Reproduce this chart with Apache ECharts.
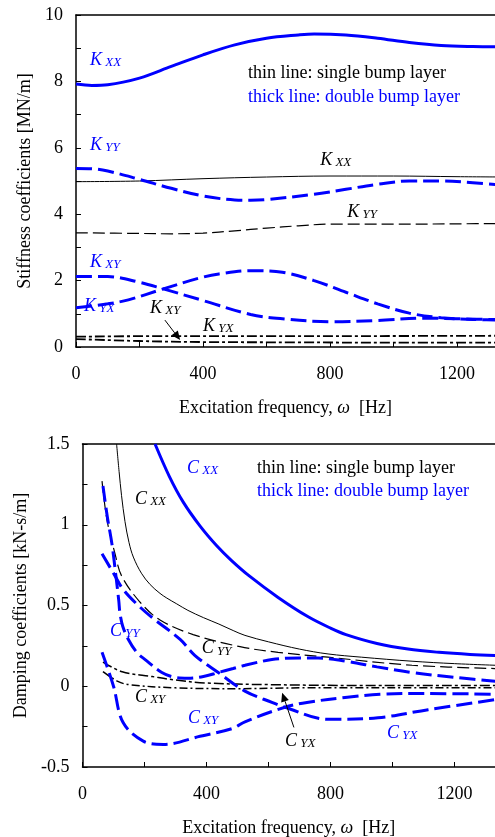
<!DOCTYPE html>
<html><head><meta charset="utf-8">
<script src="https://cdn.jsdelivr.net/npm/echarts@6/dist/echarts.min.js"></script>
<style>html,body{margin:0;padding:0;background:#fff;overflow:hidden}#c{width:495px;height:837px}</style>
</head><body><div id="c"></div>
<script>
// ---------- Stiffness (top) ----------
const kxxDblX = [0,50,100,200,300,400,500,600,700,750,850,950,1050,1150,1250,1360];
const kxxDblY = [7.92,7.88,7.9,8.1,8.45,8.8,9.1,9.3,9.4,9.43,9.4,9.3,9.17,9.08,9.05,9.04];
const kyyDblX = [0,50,100,200,300,400,500,550,600,750,850,950,1050,1150,1250,1360];
const kyyDblY = [5.38,5.37,5.3,5.05,4.78,4.55,4.43,4.42,4.44,4.6,4.75,4.9,5.0,5.0,4.95,4.86];
const kxyDblX = [0,100,200,275,400,550,650,800,950,1100,1200,1360];
const kxyDblY = [2.12,2.12,1.95,1.75,1.4,0.98,0.85,0.76,0.8,0.87,0.85,0.82];
const kyxDblX = [0,100,165,275,390,450,550,650,750,850,950,1050,1150,1250,1360];
const kyxDblY = [1.18,1.3,1.42,1.75,2.08,2.2,2.3,2.25,2.0,1.65,1.3,1.02,0.88,0.83,0.81];
const kxxSglX = [0,200,400,600,800,1000,1200,1360];
const kxxSglY = [4.98,5.0,5.07,5.12,5.15,5.15,5.13,5.12];
const kyySglX = [0,200,300,400,500,600,700,800,1000,1200,1360];
const kyySglY = [3.44,3.42,3.41,3.43,3.5,3.58,3.65,3.7,3.7,3.71,3.72];
const kxySglX = [0,300,600,900,1360];
const kxySglY = [0.31,0.33,0.33,0.33,0.34];
const kyxSglX = [0,200,400,700,1000,1360];
const kyxSglY = [0.24,0.18,0.15,0.14,0.13,0.13];

// ---------- Damping (bottom) ----------
const cxxDblX = [234,280,325,380,433,480,540,631,728,800,850,950,1050,1150,1250,1360];
const cxxDblY = [1.5,1.3,1.14,0.99,0.87,0.78,0.68,0.55,0.43,0.36,0.32,0.265,0.23,0.21,0.197,0.188];
const cyyDblX = [66,80,95,108,117,121,130,148,175,202,256,298,340,390,438,486,524,611,700,760,850,950,1063,1200,1360];
const cyyDblY = [1.24,1.05,0.88,0.68,0.53,0.45,0.37,0.29,0.21,0.165,0.085,0.055,0.05,0.06,0.085,0.11,0.13,0.165,0.175,0.175,0.155,0.12,0.085,0.055,0.025];
const cxyDblX = [63,100,131,196,261,379,486,524,653,724,847,960,1100,1360];
const cxyDblY = [0.21,0.0,-0.225,-0.34,-0.36,-0.31,-0.26,-0.22,-0.13,-0.1,-0.07,-0.05,-0.045,-0.05];
const cyxDblX = [63,100,131,180,228,315,363,438,524,611,653,792,953,1115,1360];
const cyxDblY = [0.82,0.7,0.6,0.5,0.42,0.29,0.19,0.085,-0.03,-0.1,-0.13,-0.205,-0.195,-0.145,-0.075];
const cxxSglX = [110,118,126,137,150,164,190,218,250,272,304,340,390,440,486,524,600,700,792,900,1063,1200,1360];
const cxxSglY = [1.5,1.33,1.18,1.02,0.89,0.8,0.7,0.63,0.575,0.546,0.51,0.47,0.425,0.385,0.345,0.315,0.275,0.23,0.2,0.18,0.155,0.14,0.128];
const cyySglX = [63,79,105,127,186,250,357,508,631,792,1063,1360];
const cyySglY = [1.27,1.03,0.82,0.68,0.52,0.41,0.32,0.245,0.21,0.18,0.13,0.108];
const cxySglX = [66,128,225,293,400,600,900,1360];
const cxySglY = [0.15,0.09,0.06,0.04,0.02,0.01,0.005,0.005];
const cyxSglX = [66,114,150,300,500,700,1000,1360];
const cyxSglY = [0.09,0.03,0.01,-0.01,-0.015,-0.01,-0.01,-0.01];

// axis ranges / ticks (the plot runs past the right edge of the picture)
const topX = {min:0, max:1360, step:200, labelStep:400};
const topY = {min:0, max:10, step:1, labelStep:2};
const botX = {min:0, max:1360, step:200, labelStep:400};
const botY = {min:-0.5, max:1.5, step:0.25, labelStep:0.5};

const FONT = 'Liberation Serif';
const BLUE = '#0000ff';
const zip = (xs, ys) => xs.map((x, i) => [x, ys[i]]);

function line(xs, ys, g, color, width, dash) {
  return {
    type: 'line', xAxisIndex: g, yAxisIndex: g, data: zip(xs, ys),
    showSymbol: false, symbol: 'none', smooth: 0.35, animation: false,
    lineStyle: {color: color, width: width, type: dash || 'solid'}, z: width > 2 ? 3 : 2
  };
}

function isMult(v, s) { const r = v / s; return Math.abs(r - Math.round(r)) < 1e-6; }

function xAxis(g, cfg, shift) {
  return {
    gridIndex: g, type: 'value', min: cfg.min, max: cfg.max, interval: cfg.step,
    splitLine: {show: false},
    axisLine: {onZero: false, lineStyle: {color: '#000', width: 1.5}},
    axisTick: {inside: true, length: 5, lineStyle: {color: '#000', width: 1}},
    axisLabel: {color: '#000', fontSize: 18, fontFamily: FONT, margin: 18,
      formatter: v => isMult(v, cfg.labelStep) ? String(v) : ''},
    name: 'Excitation frequency, {i|ω}  [Hz]', nameLocation: 'middle', nameGap: 52,
    nameTextStyle: {color: '#000', fontSize: 18, fontFamily: FONT, padding: [0, shift, 0, 0],
      rich: {i: {fontStyle: 'italic', fontSize: 18, fontFamily: FONT, color: '#000'}}}
  };
}
function topBorder(g) {
  return {gridIndex: g, type: 'value', position: 'top', min: 0, max: 1,
    axisLine: {onZero: false, lineStyle: {color: '#000', width: 1.5}}, axisTick: {show: false},
    axisLabel: {show: false}, splitLine: {show: false}};
}
function yAxis(g, cfg, name, gap) {
  return {
    gridIndex: g, type: 'value', min: cfg.min, max: cfg.max, interval: cfg.step,
    splitLine: {show: false},
    axisLine: {show: true, onZero: false, lineStyle: {color: '#000', width: 1.5}},
    axisTick: {show: true, inside: true, length: 5, lineStyle: {color: '#000', width: 1}},
    axisLabel: {color: '#000', fontSize: 18, fontFamily: FONT, margin: 13,
      formatter: v => isMult(v, cfg.labelStep) ? String(+v.toFixed(2)) : ''},
    name: name, nameLocation: 'middle', nameGap: gap,
    nameTextStyle: {color: '#000', fontSize: 18, fontFamily: FONT}
  };
}

const chart = echarts.init(document.getElementById('c'), null, {renderer: 'canvas'});
chart.setOption({
  animation: false,
  backgroundColor: '#fff',
  textStyle: {fontFamily: FONT},
  grid: [
    {left: 76, top: 15, width: 431.8, height: 332, outerBoundsMode: 'none', containLabel: false},
    {left: 82.5, top: 444, width: 421.6, height: 323, outerBoundsMode: 'none', containLabel: false}
  ],
  xAxis: [xAxis(0, topX, 13), xAxis(1, botX, 9), topBorder(0), topBorder(1)],
  yAxis: [yAxis(0, topY, 'Stiffness coefficients [MN/m]', 40), yAxis(1, botY, 'Damping coefficients [kN-s/m]', 50)],
  series: [
    line(kxxSglX, kxxSglY, 0, '#000', 1),
    line(kyySglX, kyySglY, 0, '#000', 1.2, [12, 5]),
    line(kxySglX, kxySglY, 0, '#000', 1.8, [10, 3, 3, 3]),
    line(kyxSglX, kyxSglY, 0, '#000', 1.8, [10, 3, 3, 3]),
    line(kxxDblX, kxxDblY, 0, BLUE, 3),
    line(kyyDblX, kyyDblY, 0, BLUE, 3, [16, 6]),
    line(kxyDblX, kxyDblY, 0, BLUE, 3, [16, 6]),
    line(kyxDblX, kyxDblY, 0, BLUE, 3, [16, 6]),
    line(cxxSglX, cxxSglY, 1, '#000', 1),
    line(cyySglX, cyySglY, 1, '#000', 1.2, [12, 5]),
    line(cxySglX, cxySglY, 1, '#000', 1.5, [10, 3, 3, 3]),
    line(cyxSglX, cyxSglY, 1, '#000', 1.5, [8, 3, 2, 3]),
    line(cxxDblX, cxxDblY, 1, BLUE, 3),
    line(cyyDblX, cyyDblY, 1, BLUE, 3, [16, 6]),
    line(cxyDblX, cxyDblY, 1, BLUE, 3, [16, 6]),
    line(cyxDblX, cyxDblY, 1, BLUE, 3, [16, 6])
  ]
});

// ---------- annotations (data coordinates) ----------
const curveLabels = [
  [0, 'K', 'XX', 44, 8.64, BLUE], [0, 'K', 'YY', 44, 6.08, BLUE],
  [0, 'K', 'XX', 769, 5.63, '#000'], [0, 'K', 'YY', 854, 4.07, '#000'],
  [0, 'K', 'XY', 44, 2.56, BLUE], [0, 'K', 'YX', 25, 1.23, BLUE],
  [0, 'K', 'XY', 233, 1.17, '#000'], [0, 'K', 'YX', 400, 0.63, '#000'],
  [1, 'C', 'XX', 337, 1.35, BLUE], [1, 'C', 'XX', 169, 1.16, '#000'],
  [1, 'C', 'YY', 89, 0.34, BLUE], [1, 'C', 'YY', 385, 0.233, '#000'],
  [1, 'C', 'XY', 169, -0.07, '#000'], [1, 'C', 'XY', 340, -0.2, BLUE],
  [1, 'C', 'YX', 653, -0.34, '#000'], [1, 'C', 'YX', 982, -0.29, BLUE]
];
const legendTexts = [
  [0, 'thin line: single bump layer', 542, 8.25, '#000'],
  [0, 'thick line: double bump layer', 542, 7.53, BLUE],
  [1, 'thin line: single bump layer', 563, 1.35, '#000'],
  [1, 'thick line: double bump layer', 563, 1.21, BLUE]
];
const arrows = [
  [0, 280, 0.81, 328, 0.21],
  [1, 682, -0.255, 644, -0.04]
];

const px = (g, x, y) => chart.convertToPixel({gridIndex: g}, [x, y]);
const graphics = [];
curveLabels.forEach(([g, m, s, x, y, c]) => {
  const p = px(g, x, y);
  graphics.push({type: 'text', x: p[0], y: p[1], z: 10,
    style: {text: '{m|' + m + '}{s| ' + s + '}', fill: c, verticalAlign: 'middle', align: 'left',
      rich: {m: {fontStyle: 'italic', fontSize: 18, fontFamily: FONT, fill: c, verticalAlign: 'bottom'},
             s: {fontStyle: 'italic', fontSize: 13, fontFamily: FONT, fill: c, verticalAlign: 'bottom'}}}});
});
legendTexts.forEach(([g, t, x, y, c]) => {
  const p = px(g, x, y);
  graphics.push({type: 'text', x: p[0], y: p[1], z: 10,
    style: {text: t, fill: c, fontSize: 18, fontFamily: FONT, verticalAlign: 'middle', align: 'left'}});
});
arrows.forEach(([g, x1, y1, x2, y2]) => {
  const a = px(g, x1, y1), b = px(g, x2, y2);
  const dx = b[0] - a[0], dy = b[1] - a[1], L = Math.hypot(dx, dy);
  const ux = dx / L, uy = dy / L, hl = 9, hw = 4;
  const bx = b[0] - ux * hl, by = b[1] - uy * hl;
  graphics.push({type: 'line', z: 10, shape: {x1: a[0], y1: a[1], x2: bx, y2: by},
    style: {stroke: '#000', lineWidth: 1}});
  graphics.push({type: 'polygon', z: 10, shape: {points: [[b[0], b[1]],
    [bx - uy * hw, by + ux * hw], [bx + uy * hw, by - ux * hw]]}, style: {fill: '#000'}});
});
chart.setOption({graphic: graphics});
</script></body></html>
